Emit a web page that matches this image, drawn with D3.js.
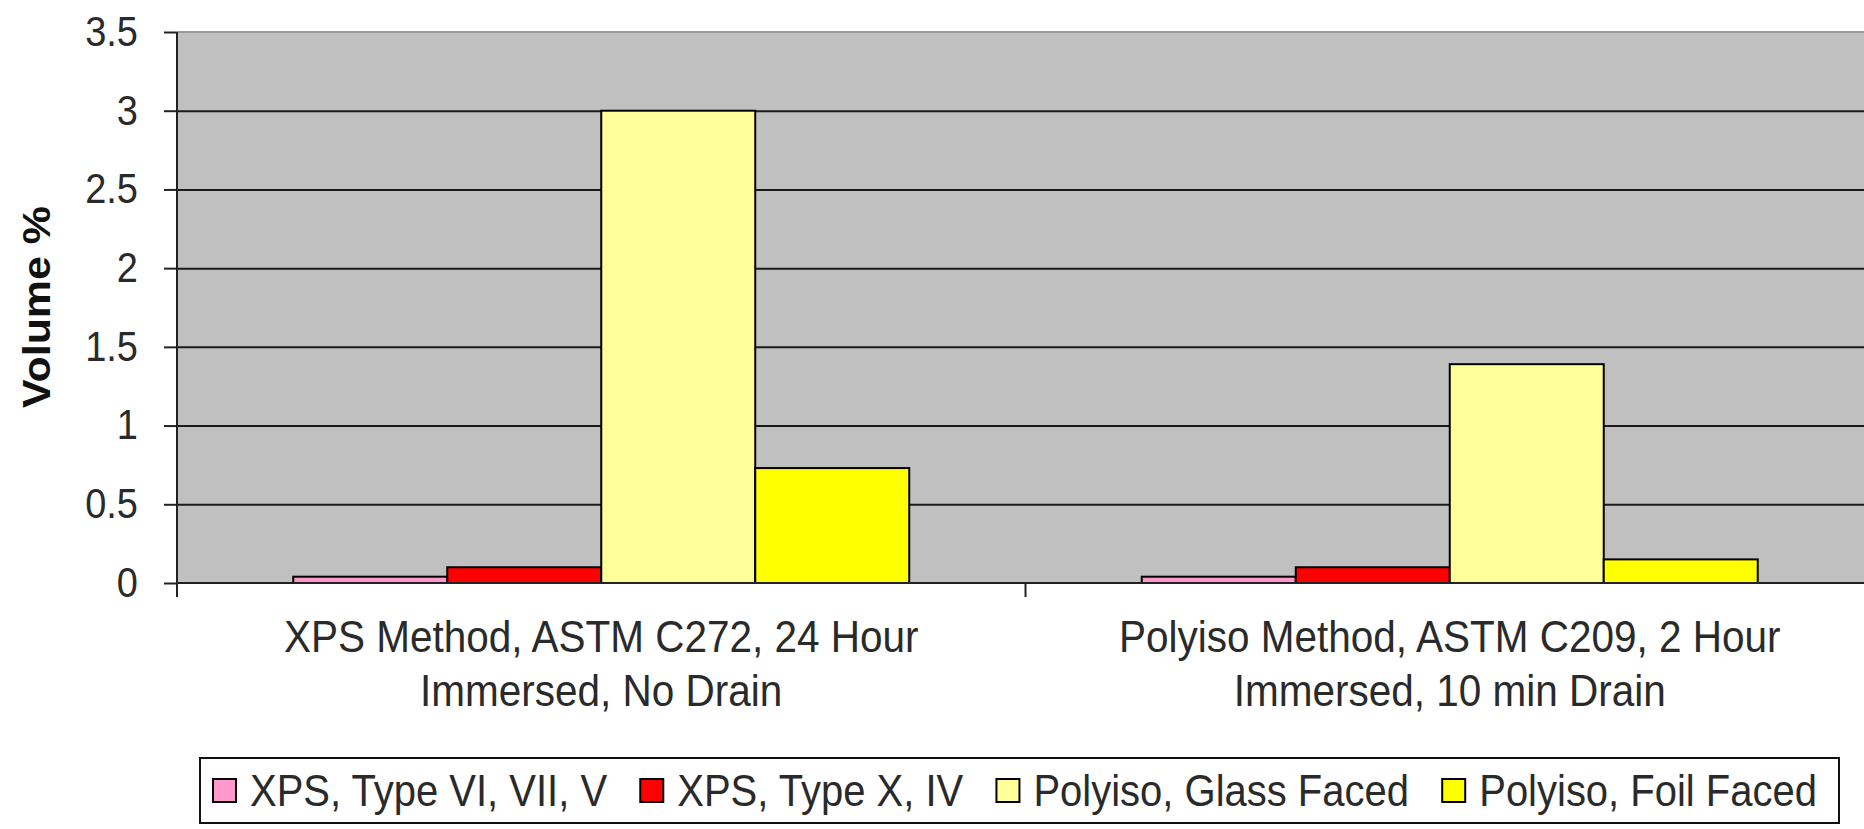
<!DOCTYPE html>
<html>
<head>
<meta charset="utf-8">
<script src="https://cdn.jsdelivr.net/npm/d3@7"></script>
<style>
    body { margin: 0; background: #fff; }
    svg { display: block; font-family: "Liberation Sans", Arial, sans-serif; }
</style>
</head>
<body>
<div id="chart"></div>
<script>
// water absorption, volume %

const categories = [
    ["XPS Method, ASTM C272, 24 Hour", "Immersed, No Drain"],
    ["Polyiso Method, ASTM C209, 2 Hour", "Immersed, 10 min Drain"]
];

const seriesNames = [
    "XPS, Type VI, VII, V",
    "XPS, Type X, IV",
    "Polyiso, Glass Faced",
    "Polyiso, Foil Faced"
];

const xpsTypeVI = [0.04, 0.04];
const xpsTypeX = [0.1, 0.1];
const polyisoGlass = [3.0, 1.39];
const polyisoFoil = [0.73, 0.15];

const yTicks = [0, 0.5, 1, 1.5, 2, 2.5, 3, 3.5];

const colorCodes = [
    "#ff99cc", // pink
    "#ff0000", // red
    "#ffff99", // light yellow
    "#ffff00"  // yellow
];

// the original picture is a bit taller than wide, so text gets a small stretch
const stretch = "scale(1,1.1)";

function drawBarChart() {
    const seriesValues = [xpsTypeVI, xpsTypeX, polyisoGlass, polyisoFoil];
    const catKeys = categories.map((c, i) => "c" + i);

    let width = 1864,
    height = 829;

    let plot = { left: 177, right: 1874, top: 32, bottom: 583 };

    let svg = d3.select("#chart").
    append("svg").
    attr("width", width).
    attr("height", height);

    let xScale = d3.scaleBand().
    domain(catKeys).
    range([plot.left, plot.right]);

    let xInner = d3.scaleBand().
    domain(seriesNames).
    range([0, xScale.bandwidth()]).
    paddingOuter(0.755);

    let yScale = d3.scaleLinear().
    domain([0, 3.5]).
    range([plot.bottom, plot.top]);

    // plot area
    svg.append("rect").
    attr("x", plot.left).
    attr("y", plot.top).
    attr("width", plot.right - plot.left).
    attr("height", plot.bottom - plot.top).
    style("fill", "#c0c0c0");

    svg.append("line").
    attr("x1", plot.left).
    attr("x2", plot.right).
    attr("y1", plot.top).
    attr("y2", plot.top).
    style("stroke", "#9a9a9a").
    style("stroke-width", 2);

    // gridlines
    let grid = svg.append("g").
    attr("transform", "translate(" + plot.left + ",0)").
    call(d3.axisLeft(yScale).
    tickValues(yTicks.slice(1, -1)).
    tickSize(-(plot.right - plot.left)).
    tickFormat(""));
    grid.select(".domain").remove();
    grid.selectAll("line").
    style("stroke", "#1a1a1a").
    style("stroke-width", 2);

    // bars
    let groups = svg.selectAll(".group").
    data(catKeys).
    enter().
    append("g").
    attr("class", "group").
    attr("transform", d => "translate(" + xScale(d) + ",0)");

    groups.selectAll("rect").
    data((d, ci) => seriesNames.map((s, si) => ({ name: s, value: seriesValues[si][ci], idx: si }))).
    enter().
    append("rect").
    attr("x", d => xInner(d.name)).
    attr("y", d => yScale(d.value)).
    attr("width", xInner.bandwidth()).
    attr("height", d => yScale(0) - yScale(d.value)).
    style("fill", d => colorCodes[d.idx]).
    style("stroke", "#000").
    style("stroke-width", 2);

    // y axis
    let yAxis = svg.append("g").
    attr("transform", "translate(" + plot.left + ",0)").
    call(d3.axisLeft(yScale).
    tickValues(yTicks).
    tickSize(13).
    tickPadding(26).
    tickFormat(d => String(d)));
    yAxis.select(".domain").
    attr("d", "M0," + (plot.bottom + 14) + "V" + plot.top).
    style("stroke", "#222").
    style("stroke-width", 2);
    yAxis.selectAll("line").
    style("stroke", "#222").
    style("stroke-width", 2);
    yAxis.selectAll("text").
    attr("transform", stretch).
    style("font-size", "38px").
    style("fill", "#2a2a2a");

    // x axis
    svg.append("line").
    attr("x1", plot.left).
    attr("x2", plot.right).
    attr("y1", plot.bottom).
    attr("y2", plot.bottom).
    style("stroke", "#222").
    style("stroke-width", 2);

    svg.selectAll(".sep").
    data(catKeys.slice(1)).
    enter().
    append("line").
    attr("x1", d => xScale(d)).
    attr("x2", d => xScale(d)).
    attr("y1", plot.bottom).
    attr("y2", plot.bottom + 14).
    style("stroke", "#222").
    style("stroke-width", 2);

    categories.forEach((lines, ci) => {
        let cx = xScale(catKeys[ci]) + xScale.bandwidth() / 2;
        lines.forEach((line, li) => {
            svg.append("text").
            attr("transform", "translate(" + cx + "," + (652 + li * 54) + ") " + stretch).
            attr("text-anchor", "middle").
            style("font-size", "40.5px").
            style("fill", "#2a2a2a").
            text(line);
        });
    });

    // axis title
    svg.append("text").
    attr("transform", "translate(50,307) " + stretch + " rotate(-90)").
    attr("text-anchor", "middle").
    style("font-size", "39px").
    style("font-weight", "bold").
    style("fill", "#111").
    text("Volume %");

    // legend
    let box = { left: 200, right: 1839, top: 758, bottom: 823 };
    svg.append("rect").
    attr("x", box.left).
    attr("y", box.top).
    attr("width", box.right - box.left).
    attr("height", box.bottom - box.top).
    style("fill", "#fff").
    style("stroke", "#111").
    style("stroke-width", 2);

    let items = seriesNames.map((name, i) => {
        let g = svg.append("g");
        g.append("rect").
        attr("x", 0).
        attr("y", 779).
        attr("width", 23).
        attr("height", 23).
        style("fill", colorCodes[i]).
        style("stroke", "#000").
        style("stroke-width", 2);
        let t = g.append("text").
        attr("transform", "translate(37,806) " + stretch).
        style("font-size", "40px").
        style("fill", "#2a2a2a").
        text(name);
        return { g: g, w: 37 + t.node().getComputedTextLength() };
    });

    let startX = box.left + 13;
    let used = d3.sum(items, d => d.w);
    let gap = (box.right - 22 - startX - used) / (items.length - 1);
    let lx = startX;
    items.forEach(d => {
        d.g.attr("transform", "translate(" + lx + ",0)");
        lx += d.w + gap;
    });
}

drawBarChart();
</script>
</body>
</html>
